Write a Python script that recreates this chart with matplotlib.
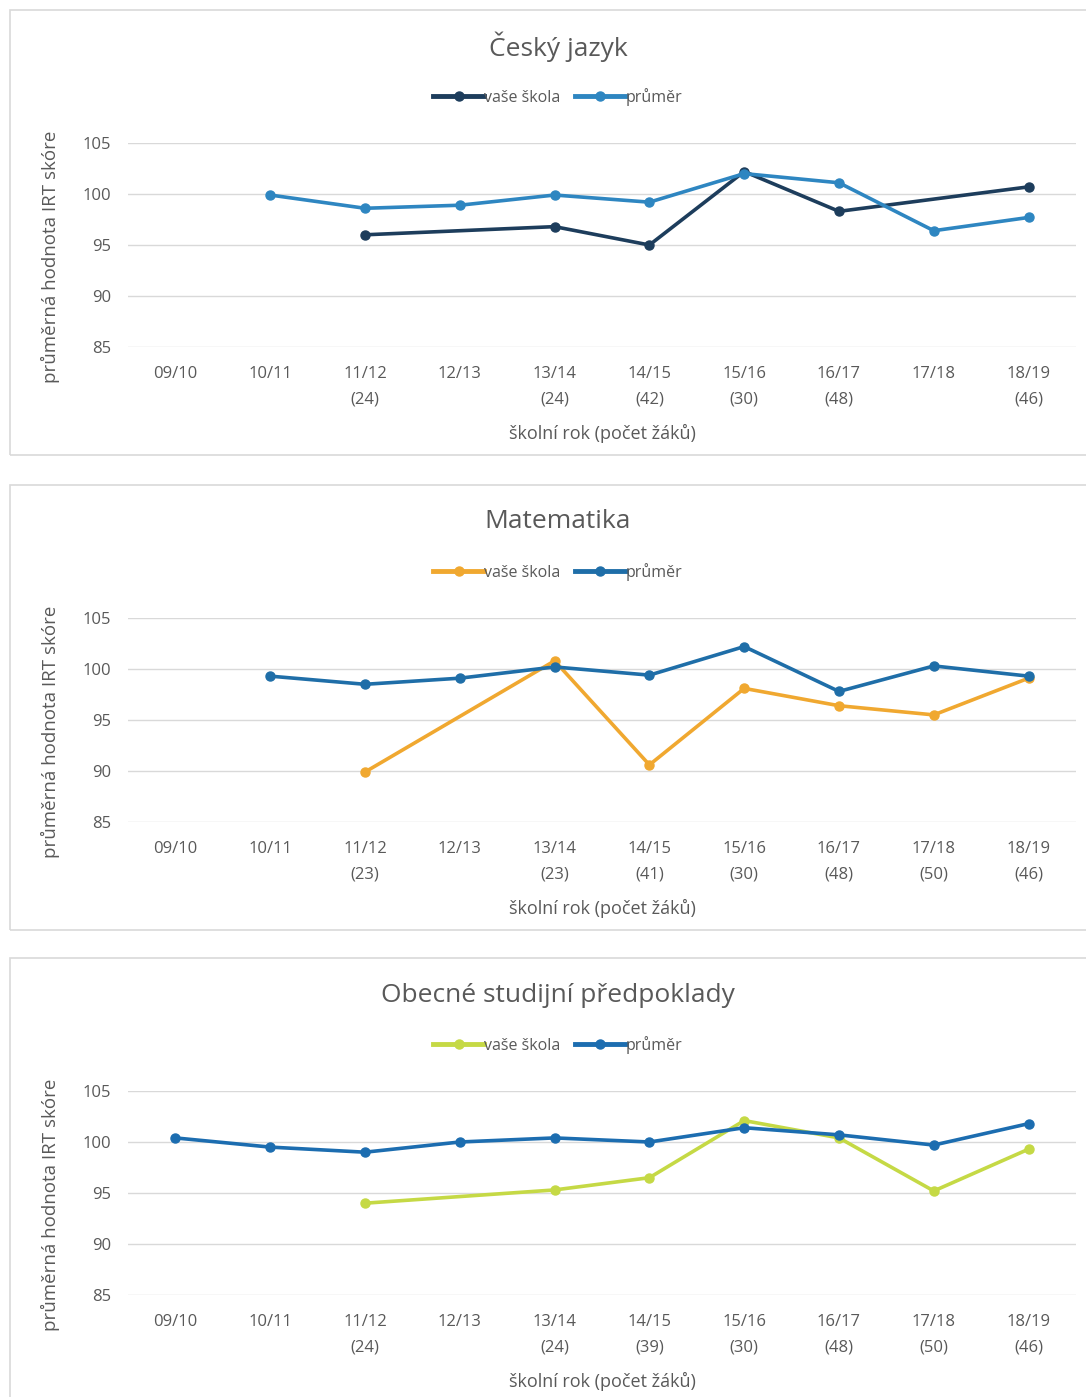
import numpy as np
import matplotlib
matplotlib.use("Agg")
import matplotlib.pyplot as plt
from matplotlib.patches import Rectangle

plt.rcParams["font.family"] = ["Open Sans", "DejaVu Sans"]

nan = np.nan

years = ["09/10", "10/11", "11/12", "12/13", "13/14", "14/15", "15/16", "16/17", "17/18", "18/19"]

# Český jazyk
cj_counts = ["", "", "24", "", "24", "42", "30", "48", "", "46"]
cj_skola = [nan, nan, 96.0, nan, 96.8, 95.0, 102.2, 98.3, nan, 100.7]
cj_prumer = [nan, 99.9, 98.6, 98.9, 99.9, 99.2, 102.0, 101.1, 96.4, 97.7]

# Matematika
ma_counts = ["", "", "23", "", "23", "41", "30", "48", "50", "46"]
ma_skola = [nan, nan, 89.9, nan, 100.8, 90.6, 98.1, 96.4, 95.5, 99.1]
ma_prumer = [nan, 99.3, 98.5, 99.1, 100.2, 99.4, 102.2, 97.8, 100.3, 99.3]

# Obecné studijní předpoklady
osp_counts = ["", "", "24", "", "24", "39", "30", "48", "50", "46"]
osp_skola = [nan, nan, 94.0, nan, 95.3, 96.5, 102.1, 100.4, 95.2, 99.3]
osp_prumer = [100.4, 99.5, 99.0, 100.0, 100.4, 100.0, 101.4, 100.7, 99.7, 101.8]

panels = [
    ("Český jazyk", cj_counts, cj_skola, cj_prumer, "#1d3d5c", "#2e86c1", 10, 455),
    ("Matematika", ma_counts, ma_skola, ma_prumer, "#f0a830", "#1f6ea8", 485, 930),
    ("Obecné studijní předpoklady", osp_counts, osp_skola, osp_prumer, "#c5d945", "#1c6db0", 958, 1420),
]

W, H = 1086, 1397
fig = plt.figure(figsize=(W / 100, H / 100), dpi=100)
fig.patch.set_facecolor("white")

def px(x0, y0, x1, y1):
    # pixel box (top-left origin) -> figure fraction
    return [x0 / W, 1 - y1 / H, (x1 - x0) / W, (y1 - y0) / H]

text_col = "#595959"
x = np.arange(len(years))

for title, counts, skola, prumer, c_sk, c_pr, top, bottom in panels:
    fig.patches.append(Rectangle((10 / W, 1 - bottom / H), (1100 - 10) / W, (bottom - top) / H,
                                 transform=fig.transFigure, fill=False,
                                 edgecolor="#d9d9d9", linewidth=1.2))
    ax = fig.add_axes(px(128, top + 133, 1076, top + 337))
    sk = np.array(skola)
    pr = np.array(prumer)
    m1 = ~np.isnan(sk)
    m2 = ~np.isnan(pr)
    l1, = ax.plot(x[m1], sk[m1], color=c_sk, lw=2.6, marker="o", ms=6.5, label="vaše škola", zorder=3)
    l2, = ax.plot(x[m2], pr[m2], color=c_pr, lw=2.6, marker="o", ms=6.5, label="průměr", zorder=3)
    ax.set_xlim(-0.5, len(years) - 0.5)
    ax.set_ylim(85, 105)
    ax.set_yticks([85, 90, 95, 100, 105])
    ax.grid(axis="y", color="#d9d9d9", linewidth=1)
    ax.set_axisbelow(True)
    for s in ax.spines.values():
        s.set_visible(False)
    labels = [y + ("\n(" + c + ")" if c else "\n") for y, c in zip(years, counts)]
    ax.set_xticks(x)
    ax.set_xticklabels(labels, linespacing=1.75)
    ax.tick_params(length=0, labelsize=12, colors=text_col)
    ax.tick_params(axis="x", pad=14)
    ax.tick_params(axis="y", pad=12)
    ax.set_xlabel("školní rok (počet žáků)", fontsize=13, color=text_col, labelpad=12)
    ax.set_ylabel("průměrná hodnota IRT skóre", fontsize=13.5, color=text_col)
    ax.yaxis.set_label_coords(-0.072, 0.44)
    fig.text(558 / W, 1 - (top + 37) / H, title, ha="center", va="center",
             fontsize=19, color=text_col)
    leg = fig.legend(handles=[l1, l2], loc="center", bbox_to_anchor=(558 / W, 1 - (top + 87) / H),
                     ncol=2, frameon=False, fontsize=11.5, handlelength=3.2, handletextpad=0.0,
                     columnspacing=0.9, labelcolor=text_col)
    for ln in leg.get_lines():
        ln.set_linewidth(3.5)

fig.savefig("out.png", dpi=100)
